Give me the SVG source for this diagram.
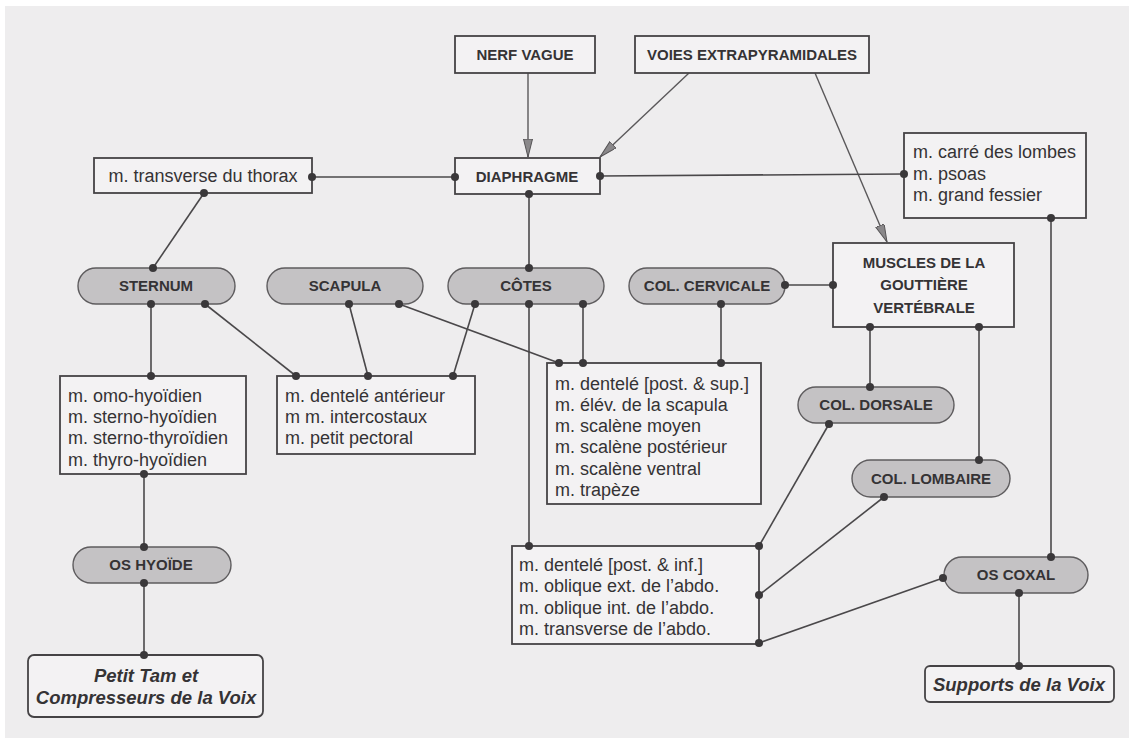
<svg xmlns="http://www.w3.org/2000/svg" width="1129" height="738" viewBox="0 0 1129 738">
<defs>
<style>
.box{fill:#f3f2f3;stroke:#454345;stroke-width:1.8}
.pill{fill:#c4c2c4;stroke:#5e5c5e;stroke-width:1.4}
.end{fill:#f3f2f3;stroke:#454345;stroke-width:1.8}
.t{font-family:"Liberation Sans",Arial,sans-serif;font-size:18px;fill:#353335}
.b{font-family:"Liberation Sans",Arial,sans-serif;font-size:15px;font-weight:bold;fill:#353335;text-anchor:middle}
.bi{font-family:"Liberation Sans",Arial,sans-serif;font-size:18.5px;font-weight:bold;font-style:italic;fill:#353335;text-anchor:middle}
.ln{stroke:#4a484a;stroke-width:1.6;fill:none}
.ar{stroke:#5a585a;stroke-width:1.4;fill:none;marker-end:url(#arr)}
.dot{fill:#3a383a}
</style>
<marker id="arr" markerUnits="userSpaceOnUse" markerWidth="20" markerHeight="10" refX="18" refY="4.5" orient="auto">
<path d="M0,0 L18,4.5 L0,9 z" fill="#8a888a" stroke="#555355" stroke-width="1"/>
</marker>
</defs>
<rect x="0" y="0" width="1129" height="738" fill="#ffffff"/>
<rect x="5" y="6" width="1124" height="732" fill="#eeedee"/>

<g id="connectors">
<line class="ar" x1="528" y1="73" x2="528" y2="157"/>
<line class="ar" x1="689" y1="73" x2="600" y2="157"/>
<line class="ar" x1="815" y1="73" x2="887" y2="242"/>
<line class="ln" x1="312" y1="177" x2="455" y2="177"/>
<line class="ln" x1="600" y1="176" x2="904" y2="174"/>
<line class="ln" x1="204" y1="193" x2="153" y2="268"/>
<line class="ln" x1="529" y1="194" x2="529" y2="268"/>
<line class="ln" x1="151" y1="304" x2="151" y2="376"/>
<line class="ln" x1="205" y1="304" x2="296" y2="376"/>
<line class="ln" x1="349" y1="304" x2="368" y2="376"/>
<line class="ln" x1="399" y1="304" x2="559" y2="363"/>
<line class="ln" x1="475" y1="304" x2="453" y2="376"/>
<line class="ln" x1="529" y1="304" x2="529" y2="546"/>
<line class="ln" x1="583" y1="304" x2="583" y2="363"/>
<line class="ln" x1="721" y1="304" x2="721" y2="363"/>
<line class="ln" x1="785" y1="285" x2="833" y2="285"/>
<line class="ln" x1="870" y1="327" x2="870" y2="387"/>
<line class="ln" x1="979" y1="327" x2="979" y2="460"/>
<line class="ln" x1="1051" y1="218" x2="1051" y2="557"/>
<line class="ln" x1="144" y1="474" x2="144" y2="547"/>
<line class="ln" x1="144" y1="583" x2="144" y2="655"/>
<line class="ln" x1="829" y1="424" x2="759" y2="546"/>
<line class="ln" x1="884" y1="497" x2="759" y2="595"/>
<line class="ln" x1="943" y1="578" x2="759" y2="643"/>
<line class="ln" x1="1019" y1="593" x2="1019" y2="666"/>
</g>

<g id="nerf-vague"><rect class="box" x="455" y="36" width="140" height="37"/><text class="b" x="525" y="60">NERF VAGUE</text></g>
<g id="voies-extrapyramidales"><rect class="box" x="635" y="36" width="234" height="37"/><text class="b" x="752" y="60">VOIES EXTRAPYRAMIDALES</text></g>
<g id="transverse-thorax"><rect class="box" x="94" y="158" width="218" height="35"/><text class="t" x="203" y="182" text-anchor="middle">m. transverse du thorax</text></g>
<g id="diaphragme"><rect class="box" x="455" y="158" width="145" height="36"/><text class="b" x="527" y="182">DIAPHRAGME</text></g>
<g id="carre-psoas"><rect class="box" x="904" y="133" width="182" height="85"/>
<text class="t" x="913" y="158">m. carré des lombes</text>
<text class="t" x="913" y="179.5">m. psoas</text>
<text class="t" x="913" y="201">m. grand fessier</text></g>
<g id="muscles-gouttiere"><rect class="box" x="833" y="243" width="181" height="84"/>
<text class="b" x="924" y="268">MUSCLES DE LA</text>
<text class="b" x="924" y="290">GOUTTIÈRE</text>
<text class="b" x="924" y="313">VERTÉBRALE</text></g>

<g id="sternum"><rect class="pill" x="78" y="268" width="157" height="36" rx="18"/><text class="b" x="156" y="291">STERNUM</text></g>
<g id="scapula"><rect class="pill" x="267" y="268" width="156" height="36" rx="18"/><text class="b" x="345" y="291">SCAPULA</text></g>
<g id="cotes"><rect class="pill" x="448" y="268" width="156" height="36" rx="18"/><text class="b" x="526" y="291">CÔTES</text></g>
<g id="col-cervicale"><rect class="pill" x="629" y="268" width="156" height="36" rx="18"/><text class="b" x="707" y="291">COL. CERVICALE</text></g>

<g id="omo-hyoidien"><rect class="box" x="60" y="376" width="186" height="98"/>
<text class="t" x="68" y="401.5">m. omo-hyoïdien</text>
<text class="t" x="68" y="422.5">m. sterno-hyoïdien</text>
<text class="t" x="68" y="444">m. sterno-thyroïdien</text>
<text class="t" x="68" y="465.5">m. thyro-hyoïdien</text></g>
<g id="dentele-anterieur"><rect class="box" x="277" y="376" width="198" height="78"/>
<text class="t" x="285" y="401.5">m. dentelé antérieur</text>
<text class="t" x="285" y="422.5">m m. intercostaux</text>
<text class="t" x="285" y="443.5">m. petit pectoral</text></g>
<g id="dentele-post-sup"><rect class="box" x="547" y="363" width="214" height="141"/>
<text class="t" x="555" y="389.5">m. dentelé [post. &amp; sup.]</text>
<text class="t" x="555" y="410.5">m. élév. de la scapula</text>
<text class="t" x="555" y="432">m. scalène moyen</text>
<text class="t" x="555" y="453">m. scalène postérieur</text>
<text class="t" x="555" y="474.5">m. scalène ventral</text>
<text class="t" x="555" y="495.5">m. trapèze</text></g>

<g id="col-dorsale"><rect class="pill" x="798" y="387" width="156" height="36" rx="18"/><text class="b" x="876" y="410">COL. DORSALE</text></g>
<g id="col-lombaire"><rect class="pill" x="852" y="460" width="158" height="37" rx="18.5"/><text class="b" x="931" y="484">COL. LOMBAIRE</text></g>
<g id="os-hyoide"><rect class="pill" x="73" y="547" width="158" height="36" rx="18"/><text class="b" x="151" y="570">OS HYOÏDE</text></g>
<g id="dentele-post-inf"><rect class="box" x="512" y="546" width="247" height="98"/>
<text class="t" x="519" y="570.5">m. dentelé [post. &amp; inf.]</text>
<text class="t" x="519" y="592">m. oblique ext. de l’abdo.</text>
<text class="t" x="519" y="613.5">m. oblique int. de l’abdo.</text>
<text class="t" x="519" y="635">m. transverse de l’abdo.</text></g>
<g id="os-coxal"><rect class="pill" x="944" y="557" width="144" height="36" rx="18"/><text class="b" x="1016" y="580">OS COXAL</text></g>
<g id="petit-tam"><rect class="end" x="28" y="655" width="235" height="62" rx="6"/>
<text class="bi" x="146" y="681.5">Petit Tam et</text>
<text class="bi" x="146" y="703.5">Compresseurs de la Voix</text></g>
<g id="supports-voix"><rect class="end" x="925" y="666" width="189" height="36" rx="5"/>
<text class="bi" x="1019" y="690.5">Supports de la Voix</text></g>

<g id="dots" class="dot">
<circle cx="312" cy="177" r="4"/><circle cx="455" cy="177" r="4"/>
<circle cx="600" cy="176" r="4"/><circle cx="904" cy="174" r="4"/>
<circle cx="204" cy="193" r="4"/><circle cx="153" cy="268" r="4"/>
<circle cx="529" cy="194" r="4"/><circle cx="529" cy="268" r="4"/>
<circle cx="151" cy="304" r="4"/><circle cx="151" cy="376" r="4"/>
<circle cx="205" cy="304" r="4"/><circle cx="296" cy="376" r="4"/>
<circle cx="349" cy="304" r="4"/><circle cx="368" cy="376" r="4"/>
<circle cx="399" cy="304" r="4"/><circle cx="559" cy="363" r="4"/>
<circle cx="475" cy="304" r="4"/><circle cx="453" cy="376" r="4"/>
<circle cx="529" cy="304" r="4"/><circle cx="529" cy="546" r="4"/>
<circle cx="583" cy="304" r="4"/><circle cx="583" cy="363" r="4"/>
<circle cx="721" cy="304" r="4"/><circle cx="721" cy="363" r="4"/>
<circle cx="785" cy="285" r="4"/><circle cx="833" cy="285" r="4"/>
<circle cx="870" cy="327" r="4"/><circle cx="870" cy="387" r="4"/>
<circle cx="979" cy="327" r="4"/><circle cx="979" cy="460" r="4"/>
<circle cx="1051" cy="218" r="4"/><circle cx="1051" cy="557" r="4"/>
<circle cx="144" cy="474" r="4"/><circle cx="144" cy="547" r="4"/>
<circle cx="144" cy="583" r="4"/><circle cx="144" cy="655" r="4"/>
<circle cx="829" cy="424" r="4"/><circle cx="759" cy="546" r="4"/>
<circle cx="884" cy="497" r="4"/><circle cx="759" cy="595" r="4"/>
<circle cx="943" cy="578" r="4"/><circle cx="759" cy="643" r="4"/>
<circle cx="1019" cy="593" r="4"/><circle cx="1019" cy="666" r="4"/>
</g>
</svg>
